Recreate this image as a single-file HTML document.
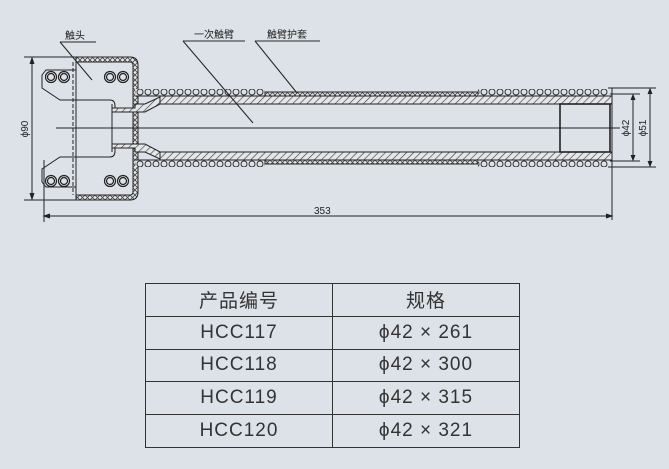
<!DOCTYPE html>
<html><head><meta charset="utf-8"><style>
body{margin:0;background:#dde2e8;width:669px;height:469px;overflow:hidden;font-family:"Liberation Sans","Noto Sans CJK SC",sans-serif}
table{position:absolute;left:145px;top:283px;border-collapse:collapse;}
td{border:1.5px solid #333;height:31.8px;text-align:center;font-size:19px;color:#333;padding:0;letter-spacing:1px}
</style></head><body>
<svg width="669" height="469" style="position:absolute;left:0;top:0">
<defs>
<pattern id="h" width="5" height="5" patternUnits="userSpaceOnUse" patternTransform="rotate(45)"><rect width="5" height="5" fill="#e4e7ea"/><line x1="0" y1="0" x2="0" y2="5" stroke="#333" stroke-width="1.2"/></pattern>
<pattern id="c" width="8" height="8" patternUnits="userSpaceOnUse"><rect width="8" height="8" fill="#dde2e8"/><circle cx="4" cy="4" r="3" fill="none" stroke="#333" stroke-width="1"/></pattern>
<pattern id="x" width="5" height="5" patternUnits="userSpaceOnUse"><rect width="5" height="5" fill="#e4e7ea"/><path d="M0 0L5 5M5 0L0 5" stroke="#444" stroke-width="0.8"/></pattern>
</defs>
<g stroke="#222" stroke-width="1" fill="none">
<path d="M76 57H130Q138 57 138 65V192Q138 200 130 200H76V195H130Q133 195 133 192V65Q133 62 130 62H76Z" fill="url(#x)"/>
<line x1="76" y1="57" x2="76" y2="200"/>
<line x1="73" y1="62" x2="73" y2="195" stroke-dasharray="4 2"/>
<path d="M76 70H46L42 75V88L60 100H76M76 100H110Q115 100 115 106V112"/>
<path d="M76 187H46L42 182V169L60 157H76M76 157H110Q115 157 115 151V145"/>
<g stroke-width="1.2">
<circle cx="51" cy="77" r="5.5"/><circle cx="51" cy="77" r="3.5"/><circle cx="64" cy="77" r="5.5"/><circle cx="64" cy="77" r="3.5"/>
<circle cx="110" cy="77" r="5.5"/><circle cx="110" cy="77" r="3.5"/><circle cx="123" cy="77" r="5.5"/><circle cx="123" cy="77" r="3.5"/>
<circle cx="51" cy="181" r="5.5"/><circle cx="51" cy="181" r="3.5"/><circle cx="64" cy="181" r="5.5"/><circle cx="64" cy="181" r="3.5"/>
<circle cx="110" cy="181" r="5.5"/><circle cx="110" cy="181" r="3.5"/><circle cx="123" cy="181" r="5.5"/><circle cx="123" cy="181" r="3.5"/>
</g>
<path d="M112 108H135V104L145 104L160 97H185V104H160L145 112H112Z" fill="url(#h)"/>
<path d="M112 148H135V152L145 152L160 159H185V152H160L145 144H112Z" fill="url(#h)"/>
<line x1="112" y1="104" x2="112" y2="152"/>
<rect x="160" y="96" width="452" height="8" fill="url(#h)"/>
<rect x="160" y="152" width="452" height="8" fill="url(#h)"/>
<rect x="135" y="89" width="130" height="7" fill="url(#c)" stroke="none"/>
<rect x="265" y="92" width="213" height="4" fill="url(#x)"/>
<rect x="478" y="89" width="130" height="7" fill="url(#c)" stroke="none"/>
<rect x="135" y="160" width="130" height="7" fill="url(#c)" stroke="none"/>
<rect x="265" y="160" width="213" height="4" fill="url(#x)"/>
<rect x="478" y="160" width="130" height="7" fill="url(#c)" stroke="none"/>
<line x1="135" y1="96" x2="612" y2="96"/><line x1="135" y1="160" x2="612" y2="160"/>
<line x1="160" y1="104" x2="560" y2="104"/><line x1="160" y1="152" x2="560" y2="152"/>
<rect x="560" y="104" width="50" height="48" stroke-width="1.6"/>
<line x1="612" y1="88" x2="612" y2="220"/>
<line x1="56" y1="128" x2="620" y2="128"/>
<line x1="24" y1="57" x2="76" y2="57"/><line x1="24" y1="200" x2="76" y2="200"/>
<line x1="32" y1="59" x2="32" y2="198"/>
<path d="M30 64L32 58L34 64M30 193L32 199L34 193" fill="#222"/>
<line x1="44" y1="160" x2="44" y2="222"/>
<line x1="44" y1="216" x2="612" y2="216"/>
<path d="M50 214L44 216L50 218M606 214L612 216L606 218" fill="#222"/>
<line x1="610" y1="94" x2="640" y2="94"/><line x1="610" y1="161" x2="640" y2="161"/>
<line x1="608" y1="88" x2="656" y2="88"/><line x1="608" y1="167" x2="656" y2="167"/>
<line x1="633" y1="96" x2="633" y2="159"/><line x1="650" y1="90" x2="650" y2="165"/>
<path d="M631 100L633 95L635 100M631 155L633 160L635 155M648 94L650 89L652 94M648 161L650 166L652 161" fill="#222"/>
<line x1="60" y1="42" x2="96" y2="42"/><line x1="60" y1="42" x2="92" y2="80"/>
<line x1="183" y1="41" x2="245" y2="41" stroke="#666" stroke-width="1.5"/><line x1="183" y1="41" x2="253" y2="123"/>
<line x1="255" y1="41" x2="320" y2="41" stroke="#666" stroke-width="1.5"/><line x1="255" y1="41" x2="297" y2="93"/>
</g>
<g font-size="10" fill="#222" font-family="Liberation Sans,Noto Sans CJK SC,sans-serif">
<text x="65" y="39">触头</text>
<text x="194" y="38">一次触臂</text>
<text x="267" y="38">触臂护套</text>
<text x="314" y="214">353</text>
<text transform="translate(28,129) rotate(-90)" text-anchor="middle">ϕ90</text>
<text transform="translate(629,128) rotate(-90)" text-anchor="middle">ϕ42</text>
<text transform="translate(646,128) rotate(-90)" text-anchor="middle">ϕ51</text>
</g>
</svg>
<table>
<tr><td style="width:186px">产品编号</td><td style="width:186px">规格</td></tr>
<tr><td>HCC117</td><td>ϕ42 × 261</td></tr>
<tr><td>HCC118</td><td>ϕ42 × 300</td></tr>
<tr><td>HCC119</td><td>ϕ42 × 315</td></tr>
<tr><td>HCC120</td><td>ϕ42 × 321</td></tr>
</table>
</body></html>
